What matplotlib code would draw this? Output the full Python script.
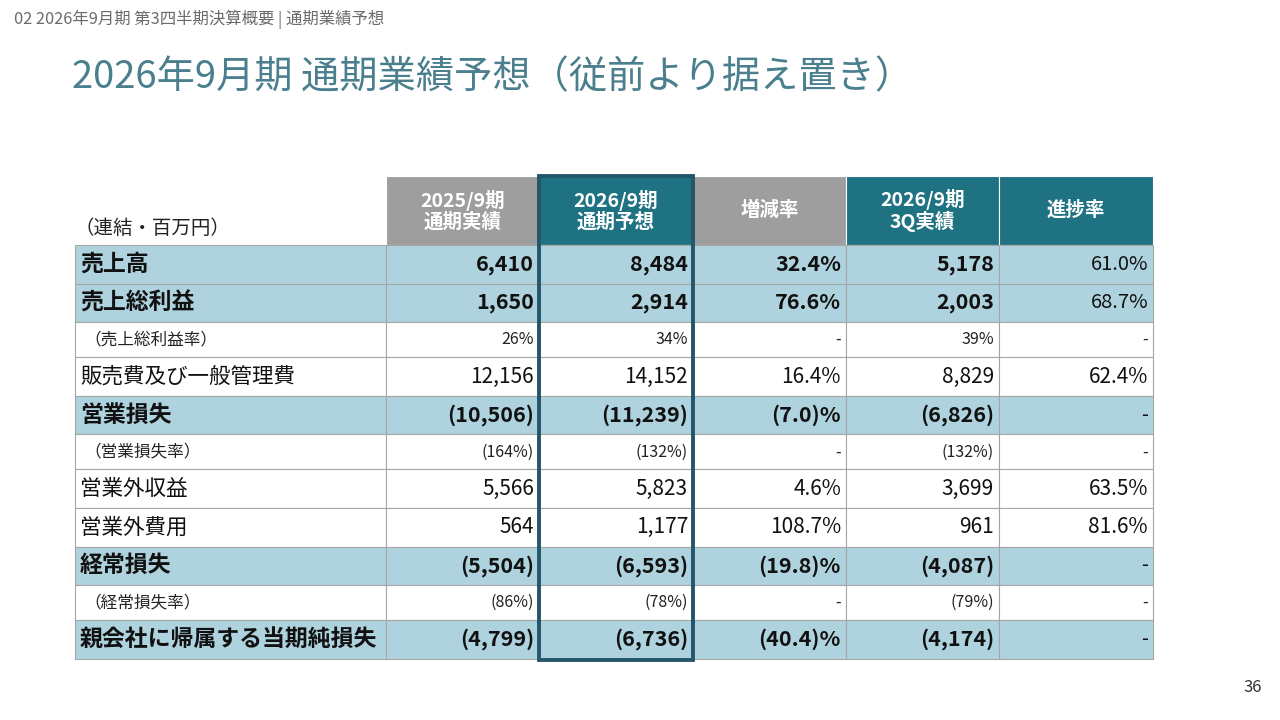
import matplotlib.pyplot as plt
from matplotlib.patches import Rectangle

plt.rcParams['font.family'] = ['Noto Sans CJK JP', 'DejaVu Sans']

breadcrumb = "02 2026年9月期 第3四半期決算概要 | 通期業績予想"
title = "2026年9月期 通期業績予想（従前より据え置き）"
unit_label = "（連結・百万円）"
page_no = "36"

headers = ["2025/9期\n通期実績", "2026/9期\n通期予想", "増減率", "2026/9期\n3Q実績", "進捗率"]
header_kind = ["gray", "teal", "gray", "teal", "teal"]

row_labels = ["売上高", "売上総利益", "（売上総利益率）", "販売費及び一般管理費", "営業損失",
              "（営業損失率）", "営業外収益", "営業外費用", "経常損失", "（経常損失率）",
              "親会社に帰属する当期純損失"]
row_kind = ["main", "main", "ratio", "plain", "main", "ratio", "plain", "plain", "main", "ratio", "main"]

fy2025 = ["6,410", "1,650", "26%", "12,156", "(10,506)", "(164%)", "5,566", "564", "(5,504)", "(86%)", "(4,799)"]
fy2026_plan = ["8,484", "2,914", "34%", "14,152", "(11,239)", "(132%)", "5,823", "1,177", "(6,593)", "(78%)", "(6,736)"]
change = ["32.4%", "76.6%", "-", "16.4%", "(7.0)%", "-", "4.6%", "108.7%", "(19.8)%", "-", "(40.4)%"]
q3_actual = ["5,178", "2,003", "39%", "8,829", "(6,826)", "(132%)", "3,699", "961", "(4,087)", "(79%)", "(4,174)"]
progress = ["61.0%", "68.7%", "-", "62.4%", "-", "-", "63.5%", "81.6%", "-", "-", "-"]

columns = [fy2025, fy2026_plan, change, q3_actual, progress]

# layout (pixels)
col_edges = [75, 386, 539, 693, 846, 999, 1153]
head_top, head_bot = 176, 245
row_h = {"main": 38.6, "plain": 38.6, "ratio": 35.0}

C_GRAY = "#9e9e9e"
C_TEAL = "#1f7282"
C_LIGHT = "#aed3de"
C_LINE = "#a6a6a6"
C_BOX = "#24566a"
C_TITLE = "#4a7f8d"

fig = plt.figure(figsize=(12.8, 7.2), dpi=100)
ax = fig.add_axes([0, 0, 1, 1])
ax.set_xlim(0, 1280)
ax.set_ylim(720, 0)
ax.axis("off")

ax.text(14, 19, breadcrumb, fontsize=11.8, color="#6b6b6b", va="center", ha="left")
ax.text(72, 78, title, fontsize=27.5, color=C_TITLE, va="center", ha="left")
ax.text(75, 228, unit_label, fontsize=14, color="#222222", va="center", ha="left")
ax.text(1262, 688, page_no, fontsize=12, color="#333333", va="center", ha="right")

# header
for j, (h, kind) in enumerate(zip(headers, header_kind)):
    x0, x1 = col_edges[j + 1], col_edges[j + 2]
    ax.add_patch(Rectangle((x0, head_top), x1 - x0, head_bot - head_top,
                           facecolor=C_GRAY if kind == "gray" else C_TEAL,
                           edgecolor="white", linewidth=0.8))
    ax.text((x0 + x1) / 2, (head_top + head_bot) / 2, h, color="white", fontsize=14,
            fontweight="bold", ha="center", va="center", linespacing=1.1)

# body
y = head_bot
for i, (lab, kind) in enumerate(zip(row_labels, row_kind)):
    h = row_h[kind]
    fc = C_LIGHT if kind == "main" else "white"
    for j in range(len(col_edges) - 1):
        x0, x1 = col_edges[j], col_edges[j + 1]
        ax.add_patch(Rectangle((x0, y), x1 - x0, h, facecolor=fc,
                               edgecolor=C_LINE, linewidth=0.8))
    yc = y + h / 2
    if kind == "main":
        ax.text(80, yc, lab, fontsize=16.5, fontweight="bold", color="#111111", ha="left", va="center")
    elif kind == "ratio":
        ax.text(84, yc, lab, fontsize=12, color="#222222", ha="left", va="center", style="italic")
    else:
        ax.text(80, yc, lab, fontsize=15.5, color="#111111", ha="left", va="center")
    for j, col in enumerate(columns):
        xr = col_edges[j + 2] - 5
        val = col[i]
        if kind == "main":
            bold = not (j == 4)
            ax.text(xr, yc, val, fontsize=15.5 if bold else 14.5, fontweight="bold" if bold else "normal",
                    color="#111111", ha="right", va="center")
        elif kind == "ratio":
            ax.text(xr, yc, val, fontsize=11.5, color="#222222", ha="right", va="center",
                    style="italic")
        else:
            ax.text(xr, yc, val, fontsize=15, color="#111111", ha="right", va="center")
    y += h

# highlight box around forecast column
ax.add_patch(Rectangle((col_edges[2], head_top), col_edges[3] - col_edges[2], y - head_top + 1,
                       facecolor="none", edgecolor=C_BOX, linewidth=2.8, zorder=5))

fig.savefig("out.png", dpi=100)
